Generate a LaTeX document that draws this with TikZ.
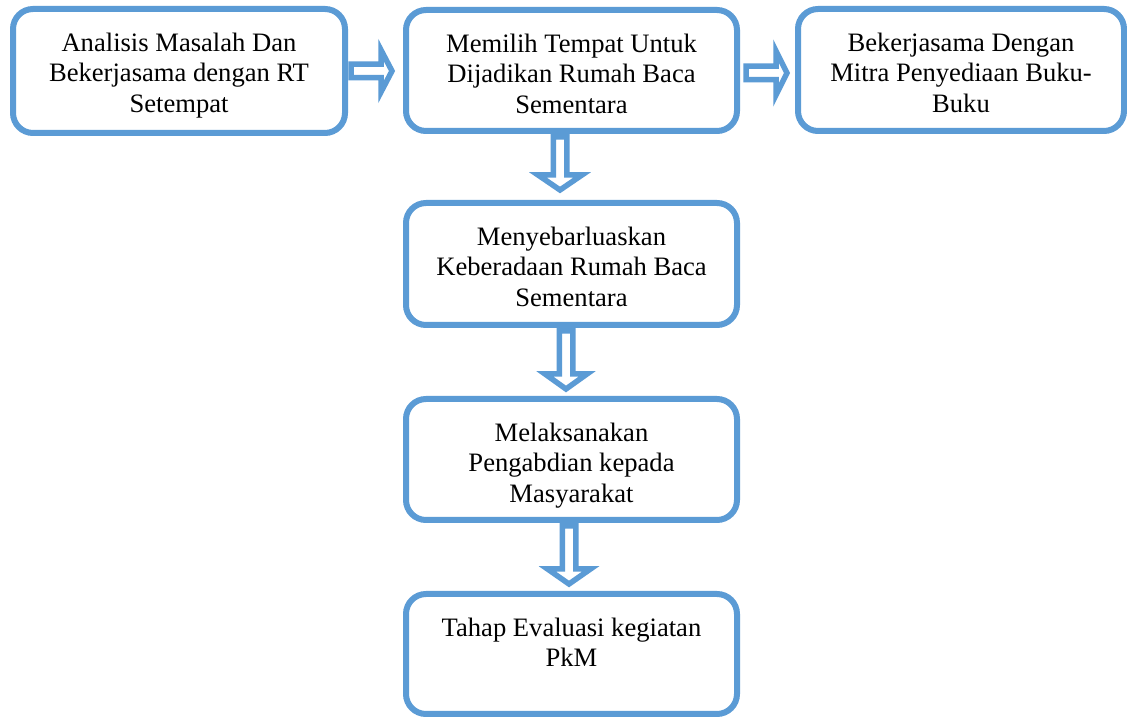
\documentclass[tikz,border=0pt]{standalone}
\usepackage{fontspec}
\setmainfont{Liberation Serif}
\usetikzlibrary{calc}
\definecolor{accent}{RGB}{91,155,213}
\tikzset{
  box/.style={draw=accent, line width=6pt, rounded corners=20pt, fill=white, inner sep=0pt, outer sep=0pt},
  txt/.style={align=center, inner sep=0pt, outer sep=0pt, font=\fontsize{26.6}{30.5}\selectfont, anchor=north},
  blk/.style={draw=accent, line width=5.5pt, fill=white, line join=miter}
}
\newcommand\harr[6]{% from node, to node, start gap, tip gap, y offset, head half
  \draw[blk] let \p1=($(#1.east)+(#3,#5)$), \p2=($(#2.west)+(-#4,#5)$) in
    (\x1,\y1+6.75pt) -- (\x2-11pt,\y1+6.75pt) -- (\x2-11pt,\y1+#6pt) -- (\x2,\y1)
    -- (\x2-11pt,\y1-#6pt) -- (\x2-11pt,\y1-6.75pt) -- (\x1,\y1-6.75pt) -- cycle;}
\newcommand\varr[6]{% from node, to node, start gap, tip gap, x offset, head half
  \draw[blk] let \p1=($(#1.south)+(#5,-#3)$), \p2=($(#2.north)+(#5,#4)$) in
    (\x1-6.75pt,\y1) -- (\x1-6.75pt,\y2+15pt) -- (\x1-#6pt,\y2+15pt) -- (\x1,\y2)
    -- (\x1+#6pt,\y2+15pt) -- (\x1+6.75pt,\y2+15pt) -- (\x1+6.75pt,\y1) -- cycle;}
\begin{document}
\begin{tikzpicture}[x=1pt,y=1pt]
\useasboundingbox[fill=white] (0,0) rectangle (1127,717);
\node[box, minimum width=332pt, minimum height=124pt] (b1) at (179,646) {};
\node[box, minimum width=331pt, minimum height=121pt] (b2) at (571.5,646.5) {};
\node[box, minimum width=326pt, minimum height=122pt] (b3) at (961,647) {};
\node[box, minimum width=331pt, minimum height=122pt] (b4) at (571.5,453) {};
\node[box, minimum width=331pt, minimum height=121pt] (b5) at (571.5,257.5) {};
\node[box, minimum width=331pt, minimum height=120pt] (b6) at (571.5,63) {};

\node[txt] (t1) at ($(b1.north)+(0,-24)$) {Analisis Masalah Dan\\Bekerjasama dengan RT\\Setempat};
\node[txt] (t2) at ($(b2.north)+(0,-24)$) {Memilih Tempat Untuk\\Dijadikan Rumah Baca\\Sementara};
\node[txt] (t3) at ($(b3.north)+(0,-24)$) {Bekerjasama Dengan\\Mitra Penyediaan Buku-\\Buku};
\node[txt] (t4) at ($(b4.north)+(0,-24)$) {Menyebarluaskan\\Keberadaan Rumah Baca\\Sementara};
\node[txt] (t5) at ($(b5.north)+(0,-24)$) {Melaksanakan\\Pengabdian kepada\\Masyarakat};
\node[txt] (t6) at ($(b6.north)+(0,-24)$) {Tahap Evaluasi kegiatan\\PkM};

\harr{b1}{b2}{6}{14}{0}{21}
\harr{b2}{b3}{9}{11}{-2.5}{22}
\varr{b2}{b4}{6}{13}{-11.5}{22}
\varr{b4}{b5}{6}{10}{-5.5}{21}
\varr{b5}{b6}{6}{10}{-2.5}{21.5}
\end{tikzpicture}
\end{document}
